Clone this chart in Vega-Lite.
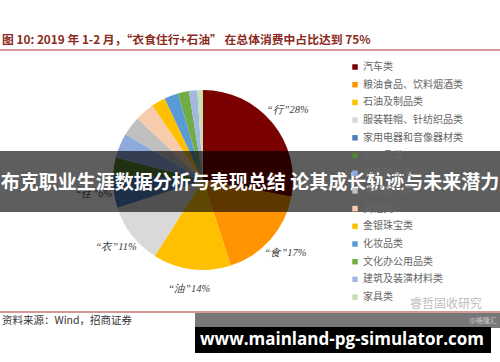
{
  "$schema": "https://vega.github.io/schema/vega-lite/v6.json",
  "width": 406,
  "height": 260,
  "autosize": {"type": "none"},
  "padding": {"left": 0, "top": 50, "right": 94, "bottom": 52},
  "background": "white",
  "view": {"stroke": null},
  "title": {
    "text": "图 10: 2019 年 1-2 月，“衣食住行+石油” 在总体消费中占比达到 75%",
    "anchor": "start",
    "frame": "group",
    "orient": "top",
    "offset": 3,
    "dx": 2,
    "font": "Noto Sans CJK SC",
    "fontSize": 11.8,
    "fontWeight": "bold",
    "color": "#8B2A22"
  },
  "datasets": {
    "slices": [
      {"idx": 1, "category": "汽车类", "value": 28, "label": "“行”28%"},
      {"idx": 2, "category": "粮油食品、饮料烟酒类", "value": 17, "label": "“食”17%"},
      {"idx": 3, "category": "石油及制品类", "value": 14, "label": "“油”14%"},
      {"idx": 4, "category": "服装鞋帽、针纺织品类", "value": 11, "label": "“衣”11%"},
      {"idx": 5, "category": "家用电器和音像器材类", "value": 6, "label": "“住”6%"},
      {"idx": 6, "category": "日用品类", "value": 3, "label": ""},
      {"idx": 7, "category": "中西药品类", "value": 4.5, "label": ""},
      {"idx": 8, "category": "通讯器材类", "value": 3.5, "label": ""},
      {"idx": 9, "category": "其他类", "value": 3.5, "label": ""},
      {"idx": 10, "category": "金银珠宝类", "value": 2.5, "label": ""},
      {"idx": 11, "category": "化妆品类", "value": 2.5, "label": ""},
      {"idx": 12, "category": "文化办公用品类", "value": 2, "label": ""},
      {"idx": 13, "category": "建筑及装潢材料类", "value": 1.5, "label": ""},
      {"idx": 14, "category": "家具类", "value": 1, "label": ""}
    ]
  },
  "layer": [
    {
      "data": {"name": "slices"},
      "mark": {"type": "arc", "outerRadius": 90},
      "encoding": {
        "theta": {"field": "value", "type": "quantitative", "stack": true},
        "order": {"field": "idx", "type": "quantitative"},
        "color": {
          "field": "category",
          "type": "nominal",
          "scale": {
            "domain": ["汽车类", "粮油食品、饮料烟酒类", "石油及制品类", "服装鞋帽、针纺织品类", "家用电器和音像器材类", "日用品类", "中西药品类", "通讯器材类", "其他类", "金银珠宝类", "化妆品类", "文化办公用品类", "建筑及装潢材料类", "家具类"],
            "range": ["#7B0000", "#FF9400", "#FFC000", "#D9D9D9", "#4F81BD", "#548235", "#8EA9DB", "#BFBFBF", "#F8CBAD", "#FFC000", "#5B9BD5", "#70AD47", "#A5B6E0", "#C5E0B4"]
          },
          "legend": {
            "title": null,
            "orient": "none",
            "direction": "vertical",
            "legendX": 350,
            "legendY": 12,
            "symbolType": "square",
            "symbolSize": 30,
            "symbolStrokeWidth": 0,
            "labelFont": "Noto Sans CJK SC",
            "labelFontSize": 10,
            "labelColor": "#666666",
            "labelOffset": 3,
            "rowPadding": 7.7,
            "labelLimit": 200
          }
        }
      }
    },
    {
      "data": {"name": "slices"},
      "mark": {"type": "text", "radius": 110, "font": "Liberation Serif", "fontStyle": "italic", "fontSize": 10.5, "color": "#404040"},
      "encoding": {
        "theta": {"field": "value", "type": "quantitative", "stack": true},
        "order": {"field": "idx", "type": "quantitative"},
        "text": {"field": "label", "type": "nominal"}
      }
    },
    {
      "data": {"values": [{}]},
      "mark": {"type": "rule", "color": "#A9332F", "strokeWidth": 1},
      "encoding": {
        "x": {"datum": 0, "type": "quantitative", "scale": {"domain": [0, 406], "nice": false, "zero": false}, "axis": null},
        "x2": {"datum": 500},
        "y": {"datum": 50, "type": "quantitative", "scale": {"domain": [50, 310], "reverse": true, "nice": false, "zero": false}, "axis": null}
      }
    },
    {
      "data": {"values": [{}]},
      "mark": {"type": "rule", "color": "#A9332F", "strokeWidth": 1},
      "encoding": {
        "x": {"datum": 0, "type": "quantitative", "scale": {"domain": [0, 406], "nice": false, "zero": false}, "axis": null},
        "x2": {"datum": 500},
        "y": {"datum": 312, "type": "quantitative", "scale": {"domain": [50, 310], "reverse": true, "nice": false, "zero": false}, "axis": null}
      }
    },
    {
      "data": {"values": [{}]},
      "mark": {"type": "text", "text": "资料来源：Wind，招商证券", "align": "left", "baseline": "middle", "font": "Noto Sans CJK SC", "fontSize": 10.5, "color": "#333333"},
      "encoding": {
        "x": {"datum": 2, "type": "quantitative", "scale": {"domain": [0, 406], "nice": false, "zero": false}, "axis": null},
        "y": {"datum": 321, "type": "quantitative", "scale": {"domain": [50, 310], "reverse": true, "nice": false, "zero": false}, "axis": null}
      }
    },
    {
      "data": {"values": [{}]},
      "mark": {"type": "text", "text": "睿哲固收研究", "align": "left", "baseline": "middle", "font": "Noto Sans CJK SC", "fontSize": 12, "color": "#BDBDBD"},
      "encoding": {
        "x": {"datum": 410, "type": "quantitative", "scale": {"domain": [0, 406], "nice": false, "zero": false}, "axis": null},
        "y": {"datum": 304, "type": "quantitative", "scale": {"domain": [50, 310], "reverse": true, "nice": false, "zero": false}, "axis": null}
      }
    },
    {
      "data": {"values": [{}]},
      "mark": {"type": "rect", "color": "#000000", "opacity": 0.63},
      "encoding": {
        "x": {"datum": 0, "type": "quantitative", "scale": {"domain": [0, 406], "nice": false, "zero": false}, "axis": null},
        "x2": {"datum": 500},
        "y": {"datum": 151, "type": "quantitative", "scale": {"domain": [50, 310], "reverse": true, "nice": false, "zero": false}, "axis": null},
        "y2": {"datum": 212}
      }
    },
    {
      "data": {"values": [{}]},
      "mark": {"type": "text", "text": "布克职业生涯数据分析与表现总结 论其成长轨迹与未来潜力", "align": "center", "baseline": "middle", "font": "Noto Sans CJK SC", "fontSize": 19, "fontWeight": "bold", "color": "#FFFFFF"},
      "encoding": {
        "x": {"datum": 250, "type": "quantitative", "scale": {"domain": [0, 406], "nice": false, "zero": false}, "axis": null},
        "y": {"datum": 183, "type": "quantitative", "scale": {"domain": [50, 310], "reverse": true, "nice": false, "zero": false}, "axis": null}
      }
    },
    {
      "data": {"values": [{}]},
      "mark": {"type": "rect", "color": "#787878"},
      "encoding": {
        "x": {"datum": 195, "type": "quantitative", "scale": {"domain": [0, 406], "nice": false, "zero": false}, "axis": null},
        "x2": {"datum": 500},
        "y": {"datum": 313, "type": "quantitative", "scale": {"domain": [50, 310], "reverse": true, "nice": false, "zero": false}, "axis": null},
        "y2": {"datum": 328}
      }
    },
    {
      "data": {"values": [{}]},
      "mark": {"type": "text", "text": "@格隆汇", "align": "right", "baseline": "middle", "font": "Noto Sans CJK SC", "fontSize": 7, "color": "#C8C8C8"},
      "encoding": {
        "x": {"datum": 497, "type": "quantitative", "scale": {"domain": [0, 406], "nice": false, "zero": false}, "axis": null},
        "y": {"datum": 321, "type": "quantitative", "scale": {"domain": [50, 310], "reverse": true, "nice": false, "zero": false}, "axis": null}
      }
    },
    {
      "data": {"values": [{}]},
      "mark": {"type": "rect", "color": "#000000"},
      "encoding": {
        "x": {"datum": 195, "type": "quantitative", "scale": {"domain": [0, 406], "nice": false, "zero": false}, "axis": null},
        "x2": {"datum": 491},
        "y": {"datum": 327, "type": "quantitative", "scale": {"domain": [50, 310], "reverse": true, "nice": false, "zero": false}, "axis": null},
        "y2": {"datum": 353}
      }
    },
    {
      "data": {"values": [{}]},
      "mark": {"type": "text", "text": "www.mainland-pg-simulator.com", "align": "center", "baseline": "middle", "font": "Open Sans", "fontSize": 17, "fontWeight": "bold", "color": "#FFFFFF"},
      "encoding": {
        "x": {"datum": 342, "type": "quantitative", "scale": {"domain": [0, 406], "nice": false, "zero": false}, "axis": null},
        "y": {"datum": 340, "type": "quantitative", "scale": {"domain": [50, 310], "reverse": true, "nice": false, "zero": false}, "axis": null}
      }
    }
  ]
}
